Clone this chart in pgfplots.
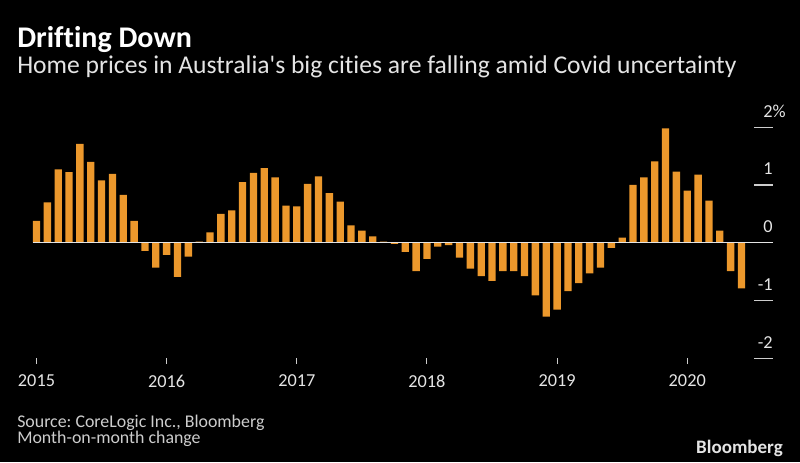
\documentclass[border=0pt]{standalone}
\usepackage{pgfplots}
\pgfplotsset{compat=1.18}
\usepackage{fontspec}
\setmainfont{Carlito}[Ligatures={TeXOff,NoCommon}]
\definecolor{barc}{RGB}{236,152,44}
\definecolor{txt}{RGB}{228,228,228}
\definecolor{tickc}{RGB}{205,205,205}
\pgfplotstableread{
x y
0 0.38
1 0.70
2 1.27
3 1.22
4 1.71
5 1.40
6 1.08
7 1.19
8 0.83
9 0.38
10 -0.14
11 -0.43
12 -0.21
13 -0.59
14 -0.24
15 0.02
16 0.18
17 0.50
18 0.56
19 1.05
20 1.21
21 1.29
22 1.13
23 0.64
24 0.63
25 1.02
26 1.15
27 0.86
28 0.71
29 0.30
30 0.21
31 0.11
32 0.02
33 -0.02
34 -0.16
35 -0.49
36 -0.28
37 -0.07
38 -0.04
39 -0.26
40 -0.45
41 -0.58
42 -0.66
43 -0.49
44 -0.49
45 -0.58
46 -0.91
47 -1.28
48 -1.16
49 -0.84
50 -0.70
51 -0.53
52 -0.43
53 -0.09
54 0.09
55 1.00
56 1.13
57 1.41
58 1.98
59 1.23
60 0.90
61 1.18
62 0.73
63 0.21
64 -0.49
65 -0.79
}\pricedata
\begin{document}
\begin{tikzpicture}[x=0.75pt,y=0.75pt]
\fill[black] (0,0) rectangle (800,462);
\path[use as bounding box] (0,0) rectangle (800,462);
\node[anchor=base west, inner sep=0pt, text=white, font=\fontsize{22.5}{26}\selectfont\bfseries] at (17,415) {Drifting Down};
\node[anchor=base west, inner sep=0pt, text=txt, font=\fontsize{19.2}{23}\selectfont] at (17,389) {Home prices in Australia's big cities are falling amid Covid uncertainty};
\node[anchor=base west, inner sep=0pt, text=tickc, font=\fontsize{13.4}{16}\selectfont] at (17,35) {Source:\ CoreLogic Inc.,\ Bloomberg};
\node[anchor=base west, inner sep=0pt, text=tickc, font=\fontsize{13.4}{16}\selectfont] at (17,19) {Month-on-month change};
\node[anchor=base east, inner sep=0pt, text=txt, font=\fontsize{14.25}{17}\selectfont\bfseries] at (783,9) {Bloomberg};
\coordinate (A) at (33,103.8);
\begin{axis}[
  at={(A)}, anchor=south west,
  scale only axis, width=540.75pt, height=173.25pt,
  xmin=-0.323, xmax=66.154, ymin=-2, ymax=2,
  clip=false,
  axis x line*=bottom, axis y line*=right,
  axis line style={draw=none},
  tick align=outside,
  major tick length=4.5pt,
  xtick={0,12,24,36,48,60},
  xticklabels={2015,2016,2017,2018,2019,2020},
  ytick={-2,-1,0,1,2},
  yticklabels={-2,-1,0,1,2\rlap{\%}},
  xtick style={draw=tickc, line width=0.7pt},
  ytick style={draw=none},
  xticklabel style={anchor=north, inner sep=0pt, yshift=-8pt, text=txt, font=\fontsize{13.7}{16}\selectfont},
  yticklabel style={anchor=base east, inner sep=0pt, xshift=9.75pt, yshift=7.5pt, text=txt, font=\fontsize{13.7}{16}\selectfont},
  /pgf/number format/assume math mode=true,
]
\addplot[ybar, bar width=5.5pt, fill=barc, draw=none] table[x=x,y=y] {\pricedata};
\addplot[draw=txt, line width=1pt] coordinates {(-0.323,0) (67.91,0)};
\addplot[draw=tickc, line width=0.9pt] coordinates {(66.154,2) (67.91,2)};
\addplot[draw=tickc, line width=0.9pt] coordinates {(66.154,1) (67.91,1)};
\addplot[draw=tickc, line width=0.9pt] coordinates {(66.154,-1) (67.91,-1)};
\addplot[draw=tickc, line width=0.9pt] coordinates {(66.154,-2) (67.91,-2)};
\end{axis}
\end{tikzpicture}
\end{document}
